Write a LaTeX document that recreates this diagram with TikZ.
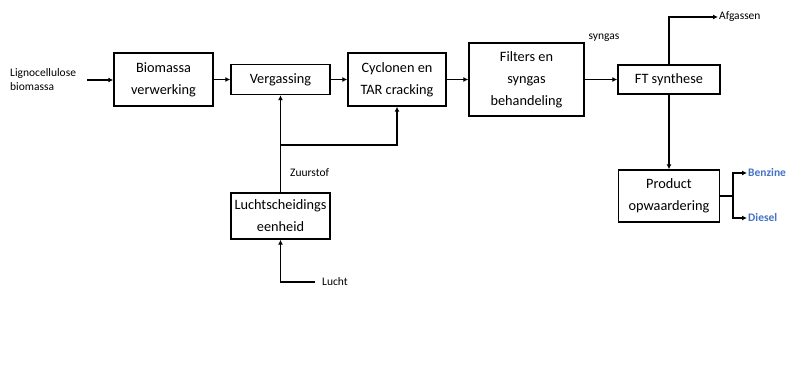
\documentclass[tikz,border=0pt]{standalone}
\usepackage{fontspec}
\setmainfont{Carlito}
\usetikzlibrary{arrows.meta}
\definecolor{prodblue}{RGB}{68,114,196}
\begin{document}
\begin{tikzpicture}[
    x=1pt, y=-1pt,
    unit/.style={rectangle, draw, line width=1.4pt, align=center, inner sep=1pt,
                 font=\fontsize{14.3}{22}\selectfont},
    flow/.style={-{Latex[length=5pt,width=5pt]}, line width=1.8pt},
    pipe/.style={line width=1.8pt},
    tag/.style={font=\fontsize{11.5}{14}\selectfont, align=left, inner sep=1pt},
    prodtag/.style={tag, text=prodblue, font=\fontsize{11.5}{14}\selectfont\bfseries}
]
    \useasboundingbox (0,0) rectangle (788,365);

    % Nodes
    \node[unit, minimum width=99pt, minimum height=53pt] (bio) at (163.5,79.5) {Biomassa\\verwerking};
    \node[unit, minimum width=99pt, minimum height=30pt] (verg) at (280.5,79.5) {Vergassing};
    \node[unit, minimum width=98pt, minimum height=53pt] (cycl) at (397,79.5) {Cyclonen en\\TAR cracking};
    \node[unit, minimum width=115pt, minimum height=73pt] (filt) at (526.5,79.5) {Filters en\\syngas\\behandeling};
    \node[unit, minimum width=102pt, minimum height=29pt] (ft) at (669,79.5) {FT synthese};
    \node[unit, minimum width=101pt, minimum height=52pt] (prod) at (669,196) {Product\\opwaardering};
    \node[unit, minimum width=99pt, minimum height=46pt] (lsu) at (280.5,216) {Luchtscheidings\\eenheid};

    % Labels
    \node[tag, anchor=west] (feed) at (9,80) {Lignocellulose\\biomassa};
    \node[tag] (syn) at (604,38) {syngas};
    \node[tag, anchor=west] (afg) at (718,17) {Afgassen};
    \node[tag, anchor=west] (zuur) at (289,173) {Zuurstof};
    \node[tag, anchor=west] (air) at (321,282) {Lucht};
    \node[prodtag, anchor=west] (benz) at (747,173) {Benzine};
    \node[prodtag, anchor=west] (dies) at (747,218) {Diesel};

    \coordinate (feedout) at (87,80);
    \coordinate (tee) at (280.5,145);
    \coordinate (split) at (733,196);

    % Main line
    \draw[flow] (feedout) -- (feedout -| bio.west);
    \draw[flow] (bio) -- (verg);
    \draw[flow] (verg) -- (cycl);
    \draw[flow] (cycl) -- (filt);
    \draw[flow] (filt) -- (ft);
    \draw[flow] (ft.north) |- (afg.west);
    \draw[flow] (ft) -- (prod);

    % Air separation
    \draw[flow, shorten <=6pt] (air.west) -| (lsu.south);
    \draw[flow] (lsu.north) -- (verg.south);
    \draw[flow] (tee) -| (cycl.south);

    % Products
    \draw[pipe] (prod.east |- split) -- (split);
    \draw[flow] (split) |- (benz.west);
    \draw[flow] (split) |- (dies.west);
\end{tikzpicture}
\end{document}
